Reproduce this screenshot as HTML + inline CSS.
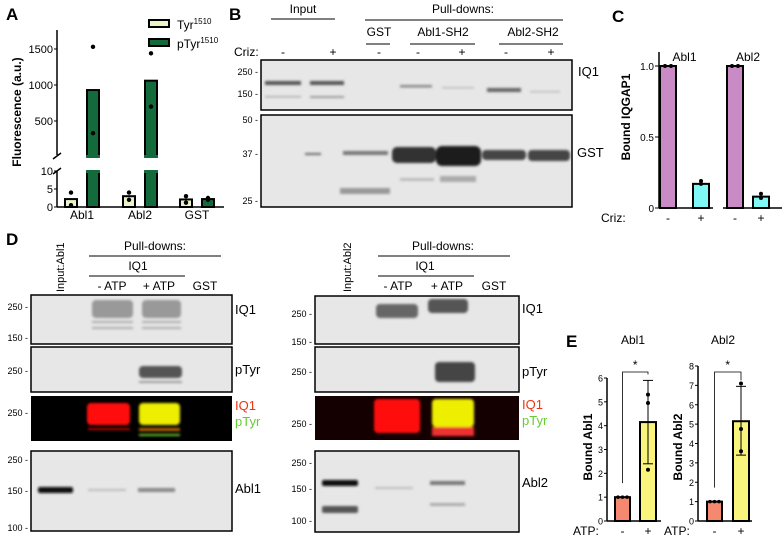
<!DOCTYPE html>
<html><head><meta charset="utf-8"><style>
html,body{margin:0;padding:0;background:#fff;}
svg{display:block;font-family:"Liberation Sans",Arial,sans-serif;}
</style></head><body>
<svg id="fig" width="783" height="542" viewBox="0 0 783 542" xmlns="http://www.w3.org/2000/svg">
<defs>
<filter id="blur1"><feGaussianBlur stdDeviation="1.2"/></filter>
<filter id="blur2"><feGaussianBlur stdDeviation="2"/></filter>
</defs>
<g font-weight="bold" font-size="17">
<text x="6" y="20">A</text>
<text x="229" y="20">B</text>
<text x="612" y="22">C</text>
<text x="6" y="245">D</text>
<text x="566" y="347">E</text>
</g>
<g id="panelA"></g>

<!-- Panel B -->
<g font-size="12">
<text x="303" y="13" text-anchor="middle">Input</text>
<line x1="271" y1="19" x2="335" y2="19" stroke="#000"/>
<text x="463" y="13" text-anchor="middle">Pull-downs:</text>
<line x1="365" y1="20" x2="563" y2="20" stroke="#000"/>
<text x="379" y="36" text-anchor="middle">GST</text><line x1="366" y1="44" x2="390" y2="44" stroke="#000"/>
<text x="443" y="36" text-anchor="middle">Abl1-SH2</text><line x1="410" y1="44" x2="475" y2="44" stroke="#000"/>
<text x="533" y="36" text-anchor="middle">Abl2-SH2</text><line x1="499" y1="44" x2="563" y2="44" stroke="#000"/>
<text x="234" y="56">Criz:</text>
<text x="283" y="56" text-anchor="middle">-</text><text x="333" y="56" text-anchor="middle">+</text><text x="379" y="56" text-anchor="middle">-</text><text x="418" y="56" text-anchor="middle">-</text><text x="462" y="56" text-anchor="middle">+</text><text x="506" y="56" text-anchor="middle">-</text><text x="551" y="56" text-anchor="middle">+</text>
<rect x="261" y="60" width="311" height="50" fill="#e7e7e7" stroke="#000" stroke-width="1.5"/>
<rect x="261" y="115" width="311" height="92" fill="#e7e7e7" stroke="#000" stroke-width="1.5"/>
<g filter="url(#blur1)">
<rect x="265" y="81" width="36" height="4" fill="#555"/><rect x="310" y="81" width="34" height="4" fill="#555"/>
<rect x="265" y="96" width="36" height="1.5" fill="#aaa"/><rect x="310" y="96" width="34" height="2" fill="#999"/>
<rect x="400" y="85" width="32" height="2.5" fill="#888"/><rect x="442" y="87" width="32" height="1.5" fill="#bbb"/>
<rect x="487" y="88" width="34" height="4" fill="#666"/><rect x="530" y="91" width="30" height="1.5" fill="#bbb"/>
<rect x="305" y="153" width="16" height="2" fill="#666"/><rect x="343" y="151" width="45" height="4" fill="#777"/>
<rect x="392" y="147" width="44" height="16" rx="5" fill="#333"/><rect x="436" y="146" width="45" height="20" rx="6" fill="#1b1b1b"/>
<rect x="482" y="150" width="44" height="10" rx="4" fill="#444"/><rect x="528" y="150" width="42" height="11" rx="4" fill="#444"/>
<rect x="340" y="188" width="50" height="6" fill="#999"/><rect x="400" y="178" width="34" height="3" fill="#bbb"/><rect x="440" y="176" width="36" height="6" fill="#aaa"/>
</g>
<g font-size="9" text-anchor="end">
<text x="258" y="75">250 -</text><text x="258" y="97">150 -</text>
<text x="258" y="123">50 -</text><text x="258" y="157">37 -</text><text x="258" y="204">25 -</text>
</g>
<text x="578" y="76" font-size="13">IQ1</text>
<text x="577" y="157" font-size="13">GST</text>
</g>

<g id="panelC"></g>

<!-- Panel D left -->
<g font-size="12">
<text transform="translate(64,292) rotate(-90)" font-size="11">Input:Abl1</text>
<text x="155" y="250" text-anchor="middle">Pull-downs:</text><line x1="89" y1="256" x2="221" y2="256" stroke="#000"/>
<text x="138" y="270" text-anchor="middle">IQ1</text><line x1="89" y1="276" x2="185" y2="276" stroke="#000"/>
<text x="112" y="290" text-anchor="middle">- ATP</text><text x="159" y="290" text-anchor="middle">+ ATP</text><text x="205" y="290" text-anchor="middle">GST</text>
<rect x="31" y="295" width="201" height="49" fill="#e7e7e7" stroke="#000" stroke-width="1.5"/>
<rect x="31" y="347" width="201" height="45" fill="#e7e7e7" stroke="#000" stroke-width="1.5"/>
<rect x="31" y="396" width="201" height="45" fill="#000"/>
<rect x="31" y="451" width="201" height="80" fill="#e7e7e7" stroke="#000" stroke-width="1.5"/>
<g filter="url(#blur1)">
<rect x="92" y="300" width="41" height="18" rx="4" fill="#999"/><rect x="142" y="300" width="39" height="18" rx="4" fill="#999"/>
<rect x="92" y="321" width="41" height="2" fill="#aaa"/><rect x="142" y="321" width="39" height="2" fill="#aaa"/>
<rect x="92" y="327" width="41" height="2" fill="#aaa"/><rect x="142" y="327" width="39" height="2" fill="#aaa"/>
<rect x="139" y="366" width="43" height="12" rx="4" fill="#555"/><rect x="139" y="381" width="43" height="2" fill="#999"/>
<rect x="87" y="403" width="43" height="22" rx="4" fill="#f11"/><rect x="139" y="403" width="41" height="22" rx="4" fill="#ee0"/>
<rect x="88" y="428" width="42" height="2" fill="#b10"/><rect x="139" y="428" width="41" height="3" fill="#b60"/><rect x="139" y="434" width="41" height="2" fill="#6c2"/>
<rect x="38" y="487" width="35" height="6" rx="2" fill="#111"/><rect x="88" y="489" width="38" height="2" fill="#bbb"/><rect x="138" y="488" width="37" height="4" fill="#888"/>
</g>
<g font-size="9" text-anchor="end">
<text x="28" y="310">250 -</text><text x="28" y="341">150 -</text><text x="28" y="374">250 -</text><text x="28" y="416">250 -</text>
<text x="28" y="463">250 -</text><text x="28" y="494">150 -</text><text x="28" y="531">100 -</text>
</g>
<text x="235" y="314" font-size="13">IQ1</text><text x="235" y="374" font-size="13">pTyr</text>
<text x="235" y="410" font-size="13" fill="#e31">IQ1</text><text x="235" y="426" font-size="13" fill="#6c3">pTyr</text>
<text x="235" y="493" font-size="13">Abl1</text>
</g>

<!-- Panel D right -->
<g font-size="12">
<text transform="translate(351,292) rotate(-90)" font-size="11">Input:Abl2</text>
<text x="443" y="250" text-anchor="middle">Pull-downs:</text><line x1="378" y1="256" x2="510" y2="256" stroke="#000"/>
<text x="425" y="270" text-anchor="middle">IQ1</text><line x1="378" y1="276" x2="474" y2="276" stroke="#000"/>
<text x="398" y="290" text-anchor="middle">- ATP</text><text x="447" y="290" text-anchor="middle">+ ATP</text><text x="494" y="290" text-anchor="middle">GST</text>
<rect x="315" y="296" width="204" height="48" fill="#e7e7e7" stroke="#000" stroke-width="1.5"/>
<rect x="315" y="347" width="204" height="45" fill="#e7e7e7" stroke="#000" stroke-width="1.5"/>
<rect x="315" y="396" width="204" height="44" fill="#140000"/>
<rect x="315" y="451" width="204" height="81" fill="#e7e7e7" stroke="#000" stroke-width="1.5"/>
<g filter="url(#blur1)">
<rect x="376" y="304" width="42" height="14" rx="4" fill="#666"/><rect x="428" y="299" width="40" height="14" rx="4" fill="#555"/>
<rect x="435" y="362" width="40" height="20" rx="4" fill="#444"/>
<rect x="374" y="399" width="46" height="34" rx="4" fill="#f11"/><rect x="432" y="399" width="42" height="28" rx="4" fill="#ee0"/><rect x="432" y="427" width="42" height="9" fill="#e33"/>
<rect x="322" y="480" width="36" height="6" rx="2" fill="#111"/><rect x="322" y="506" width="36" height="7" rx="2" fill="#555"/>
<rect x="375" y="487" width="38" height="2" fill="#bbb"/><rect x="430" y="481" width="35" height="4" fill="#777"/><rect x="430" y="503" width="35" height="3" fill="#aaa"/>
</g>
<g font-size="9" text-anchor="end">
<text x="312" y="317">250 -</text><text x="312" y="345">150 -</text><text x="312" y="375">250 -</text><text x="312" y="427">250 -</text>
<text x="312" y="466">250 -</text><text x="312" y="492">150 -</text><text x="312" y="524">100 -</text>
</g>
<text x="522" y="313" font-size="13">IQ1</text><text x="522" y="376" font-size="13">pTyr</text>
<text x="522" y="409" font-size="13" fill="#e31">IQ1</text><text x="522" y="425" font-size="13" fill="#6c3">pTyr</text>
<text x="522" y="487" font-size="13">Abl2</text>
</g>

<g id="panelE"></g>
</svg>
<script>
// Panel A data
const aCategories = ["Abl1","Abl2","GST"];
const aTyr = [2.2, 3.0, 2.1];
const aPTyr = [930, 1060, 2.2];
const aTyrDots = [[4, 0.5],[4, 2],[3, 1.2]];
const aPTyrDots = [[1530, 330],[1440, 700],[2.5, 2]];
const aUpperTicks = [500, 1000, 1500];
const aLowerTicks = [0, 5, 10];
// Panel C data
const cGroups = ["Abl1","Abl2"];
const cMinus = [1.0, 1.0];
const cPlus = [0.17, 0.08];
const cMinusDots = [[1.0,1.0],[1.0,1.0]];
const cPlusDots = [[0.19,0.17],[0.1,0.07]];
const cTicks = [0, 0.5, 1.0];
// Panel E data
const eGroups = ["Abl1","Abl2"];
const eMinus = [1, 1];
const ePlus = [4.15, 5.15];
const ePlusErrLow = [2.4, 3.4];
const ePlusErrHigh = [5.9, 6.95];
const ePlusDots = [[5.3, 4.95, 2.15],[7.1, 4.75, 3.6]];
const eMaxTick = [6, 8];

const NS = "http://www.w3.org/2000/svg";
function mk(parent, tag, attrs, text){
  const e = document.createElementNS(NS, tag);
  for (const k in attrs) e.setAttribute(k, attrs[k]);
  if (text !== undefined) e.textContent = text;
  parent.appendChild(e); return e;
}

// ---------- Panel A ----------
(function(){
  const g = document.getElementById('panelA');
  const ax = 57;
  const yU = v => 157 - (v/500)*36;
  const yL = v => 207 - (v/10)*36;
  const yAny = v => v > 10 ? yU(v) : yL(v);
  const xc = [82, 140, 197];
  const l1 = mk(g,'line',{x1:ax,y1:30,x2:ax,y2:155,stroke:'#000','stroke-width':1.5});
   
  const l2 = mk(g,'line',{x1:ax,y1:171,x2:ax,y2:207,stroke:'#000','stroke-width':1.5});
   
  mk(g,'line',{x1:ax,y1:207,x2:224,y2:207,stroke:'#000','stroke-width':1.5});
  mk(g,'line',{x1:ax-4,y1:159,x2:ax+4,y2:153,stroke:'#000','stroke-width':1.5});
  mk(g,'line',{x1:ax-4,y1:174,x2:ax+4,y2:168,stroke:'#000','stroke-width':1.5});
  aUpperTicks.forEach(t=>{
    mk(g,'line',{x1:ax-3,y1:yU(t),x2:ax,y2:yU(t),stroke:'#000'});
    const tx = mk(g,'text',{x:ax-4,y:yU(t)+4,'font-size':11,'text-anchor':'end'},t);
     
  });
  aLowerTicks.forEach(t=>{
    mk(g,'line',{x1:ax-3,y1:yL(t),x2:ax,y2:yL(t),stroke:'#000'});
    const tx = mk(g,'text',{x:ax-4,y:yL(t)+4,'font-size':11,'text-anchor':'end'},t);
     
  });
  const yt = mk(g,'text',{transform:'translate(21,112) rotate(-90)','font-size':12,'font-weight':'bold','text-anchor':'middle'},'Fluorescence (a.u.)');
   
  function bar(cx, v, fill, name){
    const w = 12;
    if (v > 10){
      const b1 = mk(g,'rect',{x:cx-w/2,y:yU(v),width:w,height:156-yU(v),fill:fill,stroke:'#000','stroke-width':2});
       
      mk(g,'rect',{x:cx-w/2,y:171,width:w,height:36,fill:fill,stroke:'#000','stroke-width':2});
      mk(g,'rect',{x:cx-w/2-1,y:155,width:w+2,height:3,fill:fill});
      mk(g,'rect',{x:cx-w/2-1,y:170,width:w+2,height:3,fill:fill});
    } else {
      const b = mk(g,'rect',{x:cx-w/2,y:yL(v),width:w,height:207-yL(v),fill:fill,stroke:'#000','stroke-width':2});
       
    }
  }
  aCategories.forEach((c,i)=>{
    bar(xc[i]-11, aTyr[i], '#eaf4c9', 'bar-tyr-'+c.toLowerCase());
    bar(xc[i]+11, aPTyr[i], '#136b3b', 'bar-ptyr-'+c.toLowerCase());
    aTyrDots[i].forEach(v=>mk(g,'circle',{cx:xc[i]-11,cy:yAny(v),r:2.2,fill:'#000'}));
    aPTyrDots[i].forEach(v=>mk(g,'circle',{cx:xc[i]+11,cy:yAny(v),r:2.2,fill:'#000'}));
    const t = mk(g,'text',{x:xc[i],y:219,'font-size':12,'text-anchor':'middle'},c);
     
  });
  const lg1 = mk(g,'rect',{x:149,y:20,width:20,height:7,fill:'#eaf4c9',stroke:'#000','stroke-width':2});
   
  const lg2 = mk(g,'rect',{x:149,y:39,width:20,height:7,fill:'#136b3b',stroke:'#000','stroke-width':2});
   
  const t1 = mk(g,'text',{x:177,y:29,'font-size':12},'Tyr');
  mk(t1,'tspan',{'font-size':8,dy:-5},'1510');
  const t2 = mk(g,'text',{x:177,y:48,'font-size':12},'pTyr');
  mk(t2,'tspan',{'font-size':8,dy:-5},'1510');
})();

// ---------- Panel C ----------
(function(){
  const g = document.getElementById('panelC');
  const y = v => 208 - v*142;
  const segs = [[659,713],[723,782]];
  const barX = [[660,693],[727,753]];
  mk(g,'line',{x1:659,y1:52,x2:659,y2:208,stroke:'#000','stroke-width':1.5});
  cTicks.forEach(t=>{
    mk(g,'line',{x1:655,y1:y(t),x2:659,y2:y(t),stroke:'#000'});
    const tx = mk(g,'text',{x:654,y:y(t)+4,'font-size':10,'text-anchor':'end'},t===1?'1.0':String(t));
     
  });
  const yt = mk(g,'text',{transform:'translate(630,117) rotate(-90)','font-size':12,'font-weight':'bold','text-anchor':'middle'},'Bound IQGAP1');
   
  mk(g,'text',{x:601,y:222,'font-size':12},'Criz:');
  cGroups.forEach((c,i)=>{
    mk(g,'line',{x1:segs[i][0],y1:208,x2:segs[i][1],y2:208,stroke:'#000','stroke-width':1.5});
    const b1 = mk(g,'rect',{x:barX[i][0],y:y(cMinus[i]),width:16,height:208-y(cMinus[i]),fill:'#c98bc6',stroke:'#000','stroke-width':2});
     
    const b2 = mk(g,'rect',{x:barX[i][1],y:y(cPlus[i]),width:16,height:208-y(cPlus[i]),fill:'#80f8f6',stroke:'#000','stroke-width':2});
     
    cMinusDots[i].forEach((v,k)=>mk(g,'circle',{cx:barX[i][0]+5+k*6,cy:y(v),r:2,fill:'#000'}));
    cPlusDots[i].forEach(v=>mk(g,'circle',{cx:barX[i][1]+8,cy:y(v),r:2,fill:'#000'}));
    const t = mk(g,'text',{x:(barX[i][0]+barX[i][1]+16)/2,y:61,'font-size':12,'text-anchor':'middle'},c);
     
    mk(g,'text',{x:barX[i][0]+8,y:222,'font-size':12,'text-anchor':'middle'},'-');
    mk(g,'text',{x:barX[i][1]+8,y:222,'font-size':12,'text-anchor':'middle'},'+');
  });
})();

// ---------- Panel E ----------
(function(){
  const g = document.getElementById('panelE');
  const axX = [607, 698];
  const top = [378, 366];
  const barX = [[615,640],[707,733]];
  const titles = ['Bound Abl1','Bound Abl2'];
  const titleX = [592, 682];
  const groupCx = [633, 723];
  eGroups.forEach((c,i)=>{
    const per = (521 - top[i]) / eMaxTick[i];
    const y = v => 521 - v*per;
    mk(g,'line',{x1:axX[i],y1:top[i],x2:axX[i],y2:521,stroke:'#000','stroke-width':1.5});
    mk(g,'line',{x1:axX[i],y1:521,x2:axX[i]+54,y2:521,stroke:'#000','stroke-width':1.5});
    for (let t=0;t<=eMaxTick[i];t++){
      mk(g,'line',{x1:axX[i]-3,y1:y(t),x2:axX[i],y2:y(t),stroke:'#000'});
      const tx = mk(g,'text',{x:axX[i]-4,y:y(t)+3.5,'font-size':9,'text-anchor':'end'},t);
       
    }
    const yt = mk(g,'text',{transform:'translate('+titleX[i]+',447) rotate(-90)','font-size':12,'font-weight':'bold','text-anchor':'middle'},titles[i]);
     
    const b1 = mk(g,'rect',{x:barX[i][0],y:y(eMinus[i]),width:15,height:521-y(eMinus[i]),fill:'#f4896f',stroke:'#000','stroke-width':2});
     
    const b2 = mk(g,'rect',{x:barX[i][1],y:y(ePlus[i]),width:16,height:521-y(ePlus[i]),fill:'#f8f47c',stroke:'#000','stroke-width':2});
     
    const cx = barX[i][1]+8;
    mk(g,'line',{x1:cx,y1:y(ePlusErrLow[i]),x2:cx,y2:y(ePlusErrHigh[i]),stroke:'#000'});
    mk(g,'line',{x1:cx-5,y1:y(ePlusErrHigh[i]),x2:cx+5,y2:y(ePlusErrHigh[i]),stroke:'#000'});
    mk(g,'line',{x1:cx-5,y1:y(ePlusErrLow[i]),x2:cx+5,y2:y(ePlusErrLow[i]),stroke:'#000'});
    [0,1,2].forEach(k=>mk(g,'circle',{cx:barX[i][0]+3+k*4.5,cy:y(eMinus[i]),r:1.8,fill:'#000'}));
    ePlusDots[i].forEach(v=>mk(g,'circle',{cx:cx,cy:y(v),r:2,fill:'#000'}));
    const bx1 = barX[i][0]+7.5, by = 372;
    const br = mk(g,'polyline',{points:bx1+','+(y(eMinus[i])-14)+' '+bx1+','+by+' '+cx+','+by+' '+cx+','+(y(ePlusErrHigh[i])-6),fill:'none',stroke:'#000','stroke-width':0.8});
     
    mk(g,'text',{x:(bx1+cx)/2,y:369,'font-size':12,'text-anchor':'middle'},'*');
    const gt = mk(g,'text',{x:groupCx[i],y:344,'font-size':12,'text-anchor':'middle'},c);
     
    mk(g,'text',{x:axX[i]-34,y:535,'font-size':12},'ATP:');
    mk(g,'text',{x:bx1,y:535,'font-size':12,'text-anchor':'middle'},'-');
    mk(g,'text',{x:cx,y:535,'font-size':12,'text-anchor':'middle'},'+');
  });
})();
</script>
</body></html>
